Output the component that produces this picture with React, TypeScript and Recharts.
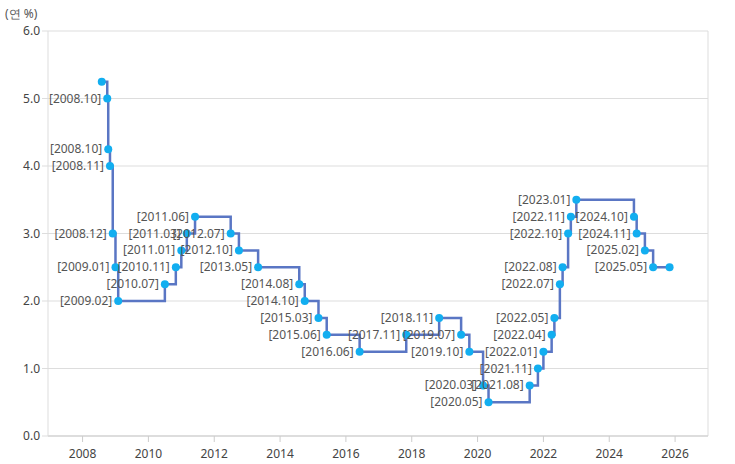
import { LineChart, Line, XAxis, YAxis, CartesianGrid, LabelList, ReferenceLine } from 'recharts';

// decimal year of each change (year + (month - 1) / 12)
const dates = [
  2008.583, 2008.75, 2008.78, 2008.833, 2008.917, 2009.0, 2009.083,
  2010.5, 2010.833, 2011.0, 2011.167, 2011.417, 2012.5, 2012.75, 2013.333,
  2014.583, 2014.75, 2015.167, 2015.417, 2016.417, 2017.833, 2018.833,
  2019.5, 2019.75, 2020.167, 2020.333, 2021.583, 2021.833, 2022.0,
  2022.25, 2022.333, 2022.5, 2022.583, 2022.75, 2022.833, 2023.0,
  2024.75, 2024.833, 2025.083, 2025.333, 2025.833,
];

const rates = [
  5.25, 5.0, 4.25, 4.0, 3.0, 2.5, 2.0,
  2.25, 2.5, 2.75, 3.0, 3.25, 3.0, 2.75, 2.5,
  2.25, 2.0, 1.75, 1.5, 1.25, 1.5, 1.75,
  1.5, 1.25, 0.75, 0.5, 0.75, 1.0, 1.25,
  1.5, 1.75, 2.25, 2.5, 3.0, 3.25, 3.5,
  3.25, 3.0, 2.75, 2.5, 2.5,
];

const labels = [
  '', '2008.10', '2008.10', '2008.11', '2008.12', '2009.01', '2009.02',
  '2010.07', '2010.11', '2011.01', '2011.03', '2011.06', '2012.07', '2012.10', '2013.05',
  '2014.08', '2014.10', '2015.03', '2015.06', '2016.06', '2017.11', '2018.11',
  '2019.07', '2019.10', '2020.03', '2020.05', '2021.08', '2021.11', '2022.01',
  '2022.04', '2022.05', '2022.07', '2022.08', '2022.10', '2022.11', '2023.01',
  '2024.10', '2024.11', '2025.02', '2025.05', '',
];

const xTicks = [2008, 2010, 2012, 2014, 2016, 2018, 2020, 2022, 2024, 2026];
const yTicks = [0, 1, 2, 3, 4, 5, 6];

const data = dates.map((d, i) => ({ date: d, rate: rates[i], label: labels[i] }));

const FONT = '"Noto Sans", sans-serif';

const DateLabel = (props: any) => {
  const { x, y, value } = props;
  if (!value) return null;
  return (
    <text x={x - 6} y={y} dy={4} textAnchor="end" fontSize={12} fill="#555" fontFamily={FONT}>
      [{value}]
    </text>
  );
};

const App = () => {
  return (
    <div style={{ position: 'absolute', left: 0, top: 0, width: 735, height: 464, background: '#fff' }}>
      <div style={{ position: 'absolute', left: 5, top: 5, fontSize: 12, color: '#555', fontFamily: FONT }}>(연 %)</div>
      <LineChart width={735} height={464} data={data} margin={{ top: 31, right: 27, left: 0, bottom: 0 }}>
        <CartesianGrid vertical={false} stroke="#ddd" />
        <ReferenceLine x={2027} stroke="#ddd" />
        <XAxis
          type="number"
          dataKey="date"
          domain={[2006.95, 2027]}
          ticks={xTicks}
          allowDataOverflow
          height={28}
          stroke="#ccc"
          tickSize={6}
          tickMargin={7}
          tick={{ fill: '#444', fontSize: 12, fontFamily: FONT }}
        />
        <YAxis
          type="number"
          domain={[0, 6]}
          ticks={yTicks}
          width={48}
          stroke="#ddd"
          tickSize={6}
          tickFormatter={(v: number) => v.toFixed(1)}
          tick={{ fill: '#444', fontSize: 12, fontFamily: FONT }}
        />
        <Line
          type="stepAfter"
          dataKey="rate"
          stroke="#5a76c4"
          strokeWidth={2.5}
          dot={{ r: 4, fill: '#12aef0', stroke: 'none' }}
          activeDot={false}
          isAnimationActive={false}
        >
          <LabelList dataKey="label" content={<DateLabel />} />
        </Line>
      </LineChart>
    </div>
  );
};

export default App;
